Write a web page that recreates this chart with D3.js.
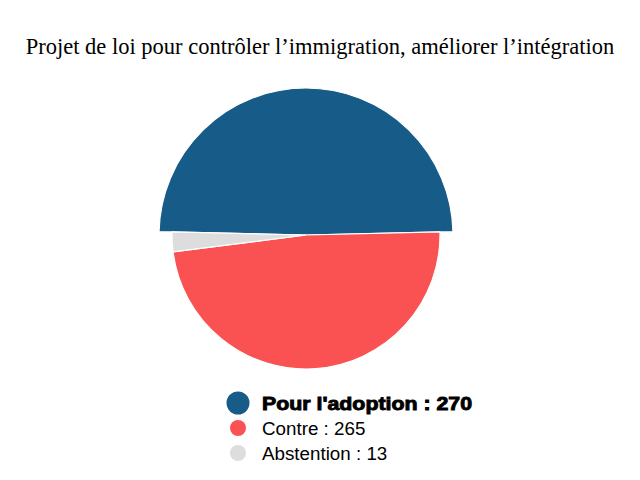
<!DOCTYPE html>
<html><head><meta charset="utf-8">
<script src="https://cdn.jsdelivr.net/npm/d3@7"></script>
<style>body{margin:0;background:#fff}svg{display:block}</style>
</head><body>
<script>
const title = "Projet de loi pour contrôler l\u2019immigration, améliorer l\u2019intégration";
const categories = ["Pour l'adoption", "Contre", "Abstention"];
const values = [270, 265, 13];
const colors = ["#175b88", "#fa5252", "#dddddd"];

const W = 640, H = 480;
const svg = d3.select("body").append("svg").attr("width", W).attr("height", H);

svg.append("text").attr("x", 320).attr("y", 54).attr("text-anchor", "middle")
  .attr("font-family", "'Liberation Serif','Times New Roman',serif").attr("font-size", 22.5)
  .attr("fill", "#000").text(title);

const total = d3.sum(values);
const start = -Math.PI * values[0] / total;
const pie = d3.pie().sort(null).startAngle(start).endAngle(start + 2 * Math.PI);
const arcs = pie(values);
const cx = 306, cy = 235, r = 134, rBig = 147;
const g = svg.append("g").attr("transform", `translate(${cx},${cy})`);
g.selectAll("path").data(arcs).join("path")
  .attr("d", (d, i) => d3.arc().innerRadius(0).outerRadius(i === 0 ? rBig : r)(d))
  .attr("fill", (d, i) => colors[i])
  .attr("stroke", "#fff").attr("stroke-width", 1.2);

const leg = svg.append("g");
const ys = [403, 428, 453];
categories.forEach((c, i) => {
  leg.append("circle").attr("cx", 238).attr("cy", ys[i]).attr("r", i === 0 ? 11.5 : 8).attr("fill", colors[i]);
  const t = leg.append("text").attr("x", 262).attr("y", ys[i] + 6.5)
    .attr("font-family", "'Liberation Sans',Arial,sans-serif")
    .attr("font-size", i === 0 ? 18.5 : 18.8)
    .attr("font-weight", i === 0 ? 900 : 400)
    .attr("stroke", i === 0 ? "#000" : "none").attr("stroke-width", i === 0 ? 0.9 : 0)
    .attr("fill", "#000").text(`${c} : ${values[i]}`);
  if (i === 0) t.attr("textLength", 210).attr("lengthAdjust", "spacingAndGlyphs");
});
</script>
</body></html>
